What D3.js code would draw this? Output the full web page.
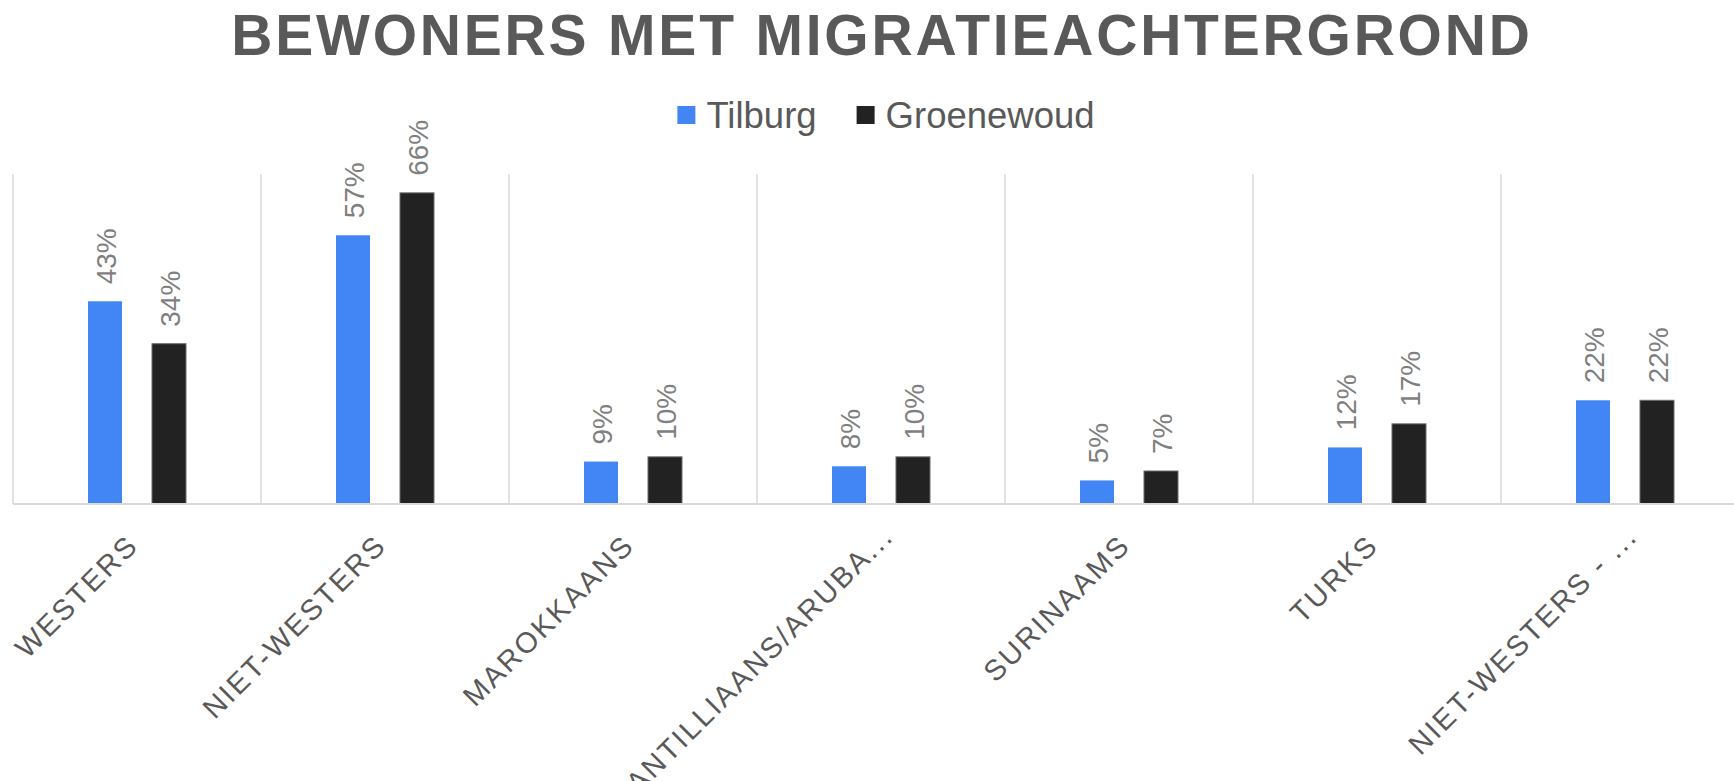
<!DOCTYPE html>
<meta charset="utf-8">
<style>

body {
  margin: 0;
  background-color: #fff;
  font-family: "Liberation Sans", Arial, sans-serif;
}

.title {
  font-weight: bold;
  font-size: 57px;
  letter-spacing: 2.8px;
  fill: #595959;
}

.legend text {
  font-size: 36.5px;
  fill: #595959;
}

.x-axis text {
  font-size: 29px;
  letter-spacing: 2.3px;
  fill: #595959;
}

.value-label {
  font-size: 28px;
  fill: #7f7f7f;
}

</style>
<body>

<div id="chart"></div>

<script src="https://d3js.org/d3.v7.min.js"></script>
<script>

// data
var categories = ["WESTERS", "NIET-WESTERS", "MAROKKAANS", "ANTILLIAANS/ARUBA...",
                  "SURINAAMS", "TURKS", "NIET-WESTERS - ..."];
var series = ["Tilburg", "Groenewoud"];
var tilburg = [0.43, 0.57, 0.09, 0.08, 0.05, 0.12, 0.22];
var groenewoud = [0.34, 0.66, 0.10, 0.10, 0.07, 0.17, 0.22];
var colors = ["#4285F4", "#222222"];

drawChart();

function drawChart(){
	var width = 1734, height = 781;
	var plotLeft = 13, bandW = 248, plotTop = 174, plotBottom = 504;

	var svg = d3.select("#chart").append("svg")
		.attr("width", width)
		.attr("height", height);

	var values = [tilburg, groenewoud];
	var rows = categories.map(function(c, i){
		return {cat: c, vals: series.map(function(s, j){ return {key: s, idx: j, value: values[j][i]}; })};
	});

	var x0 = d3.scaleBand()
		.domain(categories)
		.range([plotLeft, plotLeft + categories.length * bandW]);

	var x1 = d3.scaleBand()
		.domain(series)
		.range([bandW/2 - 49, bandW/2 + 49])
		.paddingInner(0.46875);

	var y = d3.scaleLinear()
		.domain([0, 0.7])
		.range([plotBottom, plotTop]);

	var fmt = d3.format(".0%");

	// title
	svg.append("text")
		.attr("class", "title")
		.attr("x", width/2 + 15)
		.attr("y", 55)
		.attr("text-anchor", "middle")
		.text("BEWONERS MET MIGRATIEACHTERGROND");

	// legend, centred
	var legend = svg.append("g").attr("class", "legend");
	var items = legend.selectAll("g").data(series).enter().append("g");
	items.append("rect")
		.attr("width", 18).attr("height", 18)
		.attr("y", 106)
		.style("fill", function(d, i){ return colors[i]; });
	items.append("text")
		.attr("x", 29)
		.attr("y", 128)
		.text(function(d){ return d; });
	var pos = 0, offs = [];
	items.each(function(){
		offs.push(pos);
		pos += 29 + d3.select(this).select("text").node().getComputedTextLength() + 40;
	});
	var total = pos - 40, start = 886 - total/2;
	items.attr("transform", function(d, i){ return "translate(" + (start + offs[i]) + ",0)"; });

	// category dividers
	svg.selectAll(".divider")
		.data(categories)
		.enter().append("line")
		.attr("class", "divider")
		.attr("x1", function(d){ return x0(d); })
		.attr("x2", function(d){ return x0(d); })
		.attr("y1", plotTop)
		.attr("y2", plotBottom)
		.style("stroke", "#d9d9d9")
		.style("stroke-width", 1.5);

	// bars
	var groups = svg.selectAll(".cat")
		.data(rows)
		.enter().append("g")
		.attr("class", "cat")
		.attr("transform", function(d){ return "translate(" + x0(d.cat) + ",0)"; });

	groups.selectAll("rect")
		.data(function(d){ return d.vals; })
		.enter().append("rect")
		.attr("x", function(d){ return x1(d.key); })
		.attr("width", x1.bandwidth())
		.attr("y", function(d){ return y(d.value); })
		.attr("height", function(d){ return plotBottom - y(d.value); })
		.style("fill", function(d){ return colors[d.idx]; })
		.style("stroke", function(d){ return d.idx == 1 ? "#6b6b6b" : "none"; })
		.style("stroke-width", 1);

	groups.selectAll(".value-label")
		.data(function(d){ return d.vals; })
		.enter().append("text")
		.attr("class", "value-label")
		.attr("transform", function(d){
			return "translate(" + (x1(d.key) + x1.bandwidth()/2 + 1) + "," + (y(d.value) - 17) + ") rotate(-90)";
		})
		.attr("dy", "0.36em")
		.text(function(d){ return fmt(d.value); });

	// baseline
	svg.append("line")
		.attr("x1", plotLeft)
		.attr("x2", width)
		.attr("y1", plotBottom)
		.attr("y2", plotBottom)
		.style("stroke", "#d9d9d9")
		.style("stroke-width", 2);

	// x axis with rotated labels
	var xAxis = svg.append("g")
		.attr("class", "x-axis")
		.attr("transform", "translate(0," + plotBottom + ")")
		.call(d3.axisBottom(x0).tickSize(0));
	xAxis.select(".domain").remove();
	xAxis.selectAll("text")
		.attr("x", 0).attr("y", 0).attr("dy", 0)
		.attr("font-family", null)
		.attr("font-size", null)
		.attr("fill", null)
		.attr("text-anchor", "end")
		.attr("transform", function(d){
			// truncated labels sit a little further along their line
			return d.slice(-3) == "..." ? "translate(14,34) rotate(-45)" : "translate(3,43) rotate(-45)";
		});
}

</script>
